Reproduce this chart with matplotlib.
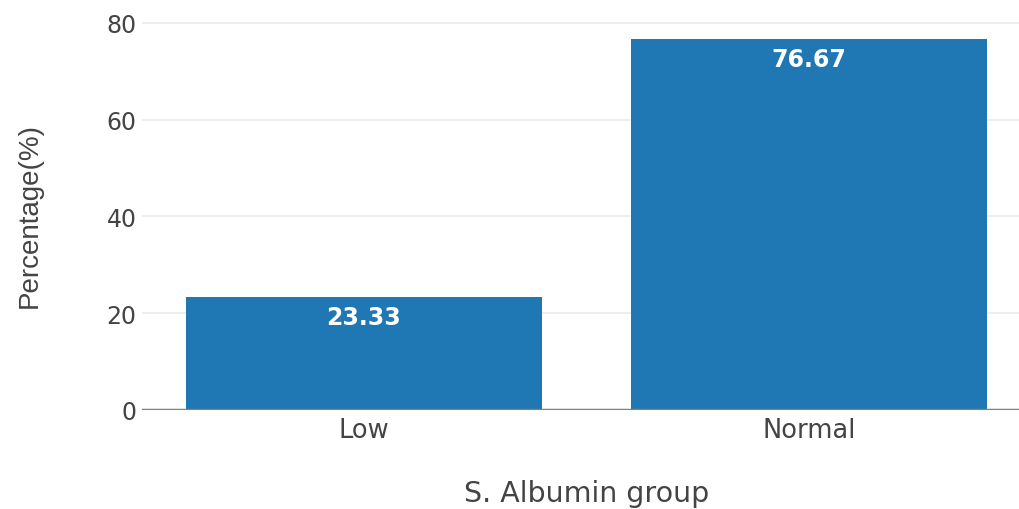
import matplotlib.pyplot as plt

# albumin groups and their share of patients
groups = ['Low', 'Normal']
percent = [23.33, 76.67]
yticks = [0, 20, 40, 60, 80]

W, H = 1019, 510
fig = plt.figure(figsize=(W / 100, H / 100), dpi=100)
fig.patch.set_facecolor('white')

# plot area runs a bit past the right edge, like the exported figure
ax = fig.add_axes([141.5 / W, 99 / H, 890 / W, 411 / H])
ax.bar(range(len(groups)), percent, width=0.8, color='#1f77b4', zorder=2)
ax.set_xlim(-0.5, 1.5)
ax.set_ylim(0, 84.96)

for s in ax.spines.values():
    s.set_visible(False)

ax.set_yticks(yticks)
ax.set_yticklabels([str(t) for t in yticks])
ax.set_xticks(range(len(groups)))
ax.set_xticklabels(groups)
ax.yaxis.grid(True, color='#ebebeb', linewidth=1.2, zorder=0)
ax.axhline(0, color='#808080', linewidth=2.5, zorder=3)
ax.tick_params(axis='y', length=0, pad=3.5, labelsize=17, labelcolor='#444444')
ax.tick_params(axis='x', length=0, pad=5, labelsize=18.5, labelcolor='#444444')
for lab in ax.get_xticklabels() + ax.get_yticklabels():
    lab.set_family('DejaVu Sans')

# value labels inside the top of each bar
for i, v in enumerate(percent):
    ax.annotate(f'{v:.2f}', xy=(i, v), xytext=(0, -6), textcoords='offset points',
                ha='center', va='top', color='white', fontsize=17,
                fontweight='bold', family='DejaVu Sans', zorder=4)

fig.text(586.5 / W, 1 - 494 / H, 'S. Albumin group', ha='center', va='center',
         fontsize=20.5, color='#444444', family='DejaVu Sans')
fig.text(30 / W, 1 - 215 / H, 'Percentage(%)', ha='center', va='center',
         rotation=90, fontsize=20, color='#444444', family='Liberation Sans')

fig.savefig('out.png', dpi=100)
